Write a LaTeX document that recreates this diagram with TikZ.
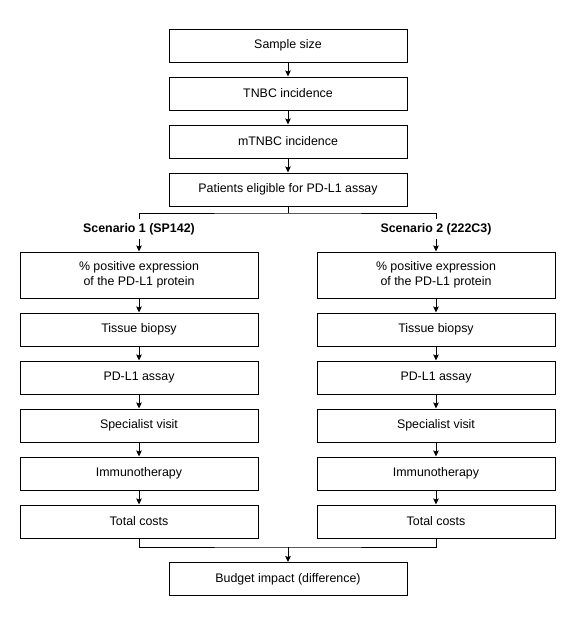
\documentclass[tikz,border=0pt]{standalone}
\usepackage{fontspec}
\setmainfont{Liberation Sans}
\usetikzlibrary{arrows.meta}
\begin{document}
\begin{tikzpicture}[x=1pt,y=-1pt,
  box/.style={draw, line width=1pt, minimum width=238pt, minimum height=33pt, inner sep=0pt, align=center, font=\fontsize{12.4}{14.6}\selectfont},
  lbl/.style={font=\fontsize{12.4}{14.6}\selectfont\bfseries, text height=9pt, text depth=3pt, inner xsep=0pt, inner ysep=4pt},
  arr/.style={line width=1pt, -{Stealth[length=6pt,width=5.5pt,inset=1pt]}},
  ln/.style={line width=1pt}]
\useasboundingbox (0,0) rectangle (576,625);
% top column
\node[box] (ss)  at (288,45.5)  {Sample size};
\node[box] (tn)  at (288,93.5)  {TNBC incidence};
\node[box] (mtn) at (288,141.5) {mTNBC incidence};
\node[box] (pat) at (288,189.5) {Patients eligible for PD-L1 assay};
% scenario labels
\node[lbl] (s1) at (139,229) {Scenario 1 (SP142)};
\node[lbl] (s2) at (436,229) {Scenario 2 (222C3)};
% left column
\node[box, minimum height=46pt] (a1) at (139,275) {\% positive expression\\of the PD-L1 protein};
\node[box] (a2) at (139,329.5) {Tissue biopsy};
\node[box] (a3) at (139,377.5) {PD-L1 assay};
\node[box] (a4) at (139,425.5) {Specialist visit};
\node[box] (a5) at (139,473.5) {Immunotherapy};
\node[box] (a6) at (139,521.5) {Total costs};
% right column
\node[box, minimum height=46pt] (b1) at (436,275) {\% positive expression\\of the PD-L1 protein};
\node[box] (b2) at (436,329.5) {Tissue biopsy};
\node[box] (b3) at (436,377.5) {PD-L1 assay};
\node[box] (b4) at (436,425.5) {Specialist visit};
\node[box] (b5) at (436,473.5) {Immunotherapy};
\node[box] (b6) at (436,521.5) {Total costs};
% bottom
\node[box] (bud) at (288,579) {Budget impact (difference)};
% connectors
\draw[arr] (ss) -- (tn);
\draw[arr] (tn) -- (mtn);
\draw[arr] (mtn) -- (pat);
\coordinate (split) at (288,213);
\draw[ln] (pat.south) -- (split);
\draw[ln] (s1.north) |- (split) -| (s2.north);
\draw[arr] (s1.south) -- (a1.north);
\draw[arr] (s2.south) -- (b1.north);
\draw[arr] (a1) -- (a2);
\draw[arr] (a2) -- (a3);
\draw[arr] (a3) -- (a4);
\draw[arr] (a4) -- (a5);
\draw[arr] (a5) -- (a6);
\draw[arr] (b1) -- (b2);
\draw[arr] (b2) -- (b3);
\draw[arr] (b3) -- (b4);
\draw[arr] (b4) -- (b5);
\draw[arr] (b5) -- (b6);
\coordinate (merge) at (288,547);
\draw[ln] (a6.south) |- (merge) -| (b6.south);
\draw[arr] (merge) -- (bud.north);
\end{tikzpicture}
\end{document}
